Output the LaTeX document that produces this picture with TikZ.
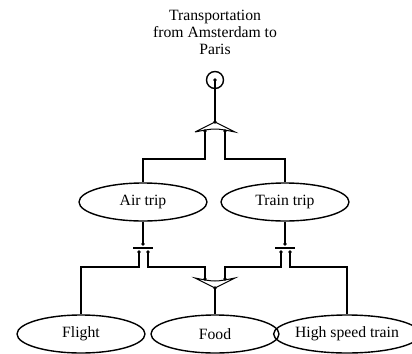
\documentclass[tikz,border=0pt]{standalone}
\usepackage{fontspec}
\setmainfont{Liberation Serif}
\usetikzlibrary{shapes.geometric}

\begin{document}
\begin{tikzpicture}[x=1bp, y=-1bp, line width=1.4bp,
    goalnode/.style={draw, ellipse, inner sep=0pt, minimum width=128bp, minimum height=38bp},
    bar/.style={line width=1.6bp}]
    \useasboundingbox (0,0) rectangle (412,354);
    \fontsize{15.7bp}{17bp}\selectfont
    % top goal
    \node [align=center] (title) at (215, 32) {Transportation\\from Amsterdam to\\Paris};
    \node [draw, circle, minimum size=17bp, inner sep=0pt] (goal) at (215, 80) {};
    % goals and tasks
    \node [goalnode] (air) at (143, 202) {Air trip};
    \node [goalnode] (train) at (285, 202) {Train trip};
    \node [goalnode] (flight) at (81, 334) {Flight};
    \node [goalnode] (food) at (215, 334) {Food};
    \node [goalnode] (hst) at (347, 334) {High speed train};
    % upper triangle
    \coordinate (orupA) at (215, 122);
    \coordinate (orupL) at (205, 131);
    \coordinate (orupR) at (225, 131);
    \draw [line width=1bp] (195, 132) -- (orupA) -- (235, 132) .. controls (215, 128) .. (195, 132);
    \draw (goal.center) -- (orupA);
    \draw (orupL) -- ++(0, 28) -| (air.north);
    \draw (orupR) -- ++(0, 28) -| (train.north);
    % left bar
    \coordinate (andAT) at (143, 244);
    \coordinate (andAL) at (139, 252);
    \coordinate (andAR) at (148, 252);
    \draw [bar] (133, 248) -- (153, 248);
    \draw (air.south) -- (andAT);
    % right bar
    \coordinate (andBT) at (285, 244);
    \coordinate (andBL) at (281, 252);
    \coordinate (andBR) at (290, 252);
    \draw [bar] (275, 248) -- (295, 248);
    \draw (train.south) -- (andBT);
    % lower triangle
    \coordinate (orlowA) at (215, 288);
    \coordinate (orlowL) at (205, 279);
    \coordinate (orlowR) at (225, 279);
    \draw [line width=1bp] (195, 278) .. controls (215, 282) .. (235, 278) -- (orlowA) -- cycle;
    \draw (andAL) -- ++(0, 15) -| (flight.north);
    \draw (andAR) -- ++(0, 15) -| (orlowL);
    \draw (andBL) -- ++(0, 15) -| (orlowR);
    \draw (andBR) -- ++(0, 15) -| (hst.north);
    \draw (orlowA) -- (food.north);
    % dots
    \foreach \p in {goal.center, orupA, orupL, orupR, andAT, andAL, andAR,
                    andBT, andBL, andBR, orlowA, orlowL, orlowR}
        \fill (\p) circle (1.8bp);
\end{tikzpicture}
\end{document}
